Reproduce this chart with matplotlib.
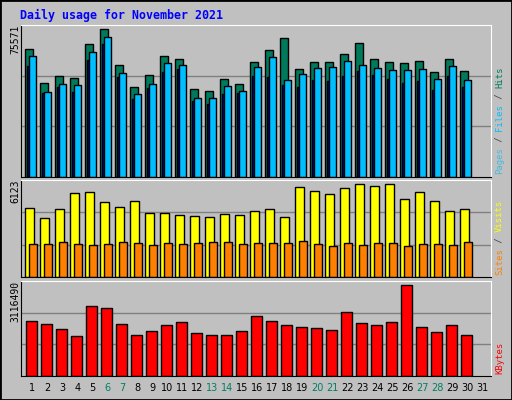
import numpy as np
import matplotlib
matplotlib.use('Agg')
import matplotlib.pyplot as plt

days = list(range(1, 32))
weekend = [6, 7, 13, 14, 20, 21, 27, 28]

hits = [63640, 46740, 50220, 49220, 66130, 73590, 55690, 44750, 50720, 60160,
        58670, 43750, 42760, 48730, 46240, 57180, 63150, 69110, 53700, 57180,
        57180, 61160, 66630, 58670, 57180, 56680, 57680, 52210, 58670, 52700]
files = [60160, 42260, 46240, 45740, 62150, 69610, 51710, 41270, 46240, 56680,
         55690, 39280, 39280, 45250, 42760, 54690, 59660, 48230, 51210, 54190,
         54690, 57680, 55690, 54190, 53200, 53200, 53700, 48730, 55190, 48230]
pages = [55190, 41760, 44750, 42260, 58170, 66130, 49720, 38780, 44250, 52210,
         53700, 37790, 36300, 41270, 41760, 50220, 49720, 45740, 44750, 48230,
         47730, 50220, 52700, 50720, 48730, 46740, 47730, 43260, 50220, 44750]
visits = [4358, 3721, 4295, 5315, 5379, 4741, 4422, 4805, 4039, 4039,
          3912, 3848, 3784, 3976, 3912, 4167, 4295, 3784, 5698, 5443,
          5251, 5634, 5889, 5761, 5889, 4932, 5379, 4805, 4167, 4295]
sites = [2062, 2062, 2190, 2062, 1998, 2062, 2190, 2126, 1998, 2126,
         2062, 2126, 2190, 2190, 2062, 2126, 2126, 2126, 2254, 2062,
         1935, 2126, 1998, 2126, 2126, 1935, 2062, 2062, 1998, 2190]
kbytes = [1815210, 1716800, 1552770, 1323140, 2307290, 2241680, 1716800, 1355940,
          1487160, 1683990, 1782410, 1421550, 1355940, 1355940, 1487160, 1979240,
          1815210, 1683990, 1618380, 1585580, 1519970, 2110460, 1749600, 1683990,
          1782410, 2996190, 1618380, 1454360, 1683990, 1355940]

max_hits, max_visits, max_kb = 75571, 6123, 3116490

W, H = 512, 400
BG = '#c0c0c0'
MONO = 'DejaVu Sans Mono'
fig = plt.figure(figsize=(W / 100, H / 100), dpi=100, facecolor=BG)
fig.patches.append(plt.Rectangle((0, 0), 1, 1, transform=fig.transFigure,
                                 fill=False, ec='black', lw=2))


def panel(top, bottom, ymax):
    ax = fig.add_axes([21 / W, 1 - bottom / H, 470 / W, (bottom - top) / H])
    ax.set_facecolor(BG)
    ax.set_xlim(0, 31.33)
    ax.set_ylim(0, ymax)
    ax.set_xticks([])
    ax.set_yticks([])
    for y in (ymax / 3, 2 * ymax / 3):
        ax.axhline(y, color='#808080', lw=1, zorder=0)
    for s in ax.spines.values():
        s.set_color('black')
    ax.spines['right'].set_color('white')
    ax.spines['top'].set_color('white')
    # max value label, left of the panel
    ax.text(-6 / 470, 1.0, str(ymax), transform=ax.transAxes, rotation=90,
            ha='center', va='top', fontsize=7, family=MONO)
    return ax


def bars(ax, vals, x0, x1, color):
    x = np.arange(len(vals)) + x0
    ax.bar(x, vals, width=x1 - x0, align='edge', color=color,
           edgecolor='black', lw=1)


def side_label(ax, parts):
    y = 0.02
    for txt, col in parts:
        ax.text(1.018, y, txt, transform=ax.transAxes, rotation=90, ha='center',
                va='bottom', fontsize=6.4, family=MONO, color=col)
        y += len(txt) * 5.35 / (ax.bbox.height)


ax1 = panel(25, 177, max_hits)
bars(ax1, hits, 0.27, 0.8, '#007a5a')
bars(ax1, pages, 0.4, 0.53, '#0000e0')
bars(ax1, files, 0.53, 1.0, '#00bfff')
side_label(ax1, [('Pages', '#44bbdd'), (' / ', '#404040'), ('Files', '#00bfff'),
                 (' / ', '#404040'), ('Hits', '#007a5a')])

ax2 = panel(180, 277, max_visits)
bars(ax2, visits, 0.27, 0.87, '#ffff00')
bars(ax2, sites, 0.53, 1.07, '#ff8000')
side_label(ax2, [('Sites', '#ff8000'), (' / ', '#404040'), ('Visits', '#ffff00')])

ax3 = panel(281, 376, max_kb)
bars(ax3, kbytes, 0.33, 1.07, '#ff0000')
side_label(ax3, [('KBytes', '#ff0000')])

for d in days:
    ax3.text(d - 1 + 0.75, -0.13, str(d), transform=ax3.get_xaxis_transform(),
             ha='center', va='center', fontsize=7,
             color='#008060' if d in weekend else 'black')

fig.text(20 / W, 1 - 15 / H, 'Daily usage for November 2021', color='#0000ff',
         fontsize=8.4, fontweight='bold', family=MONO, va='center')

fig.savefig('out.png', dpi=100, facecolor=BG)
